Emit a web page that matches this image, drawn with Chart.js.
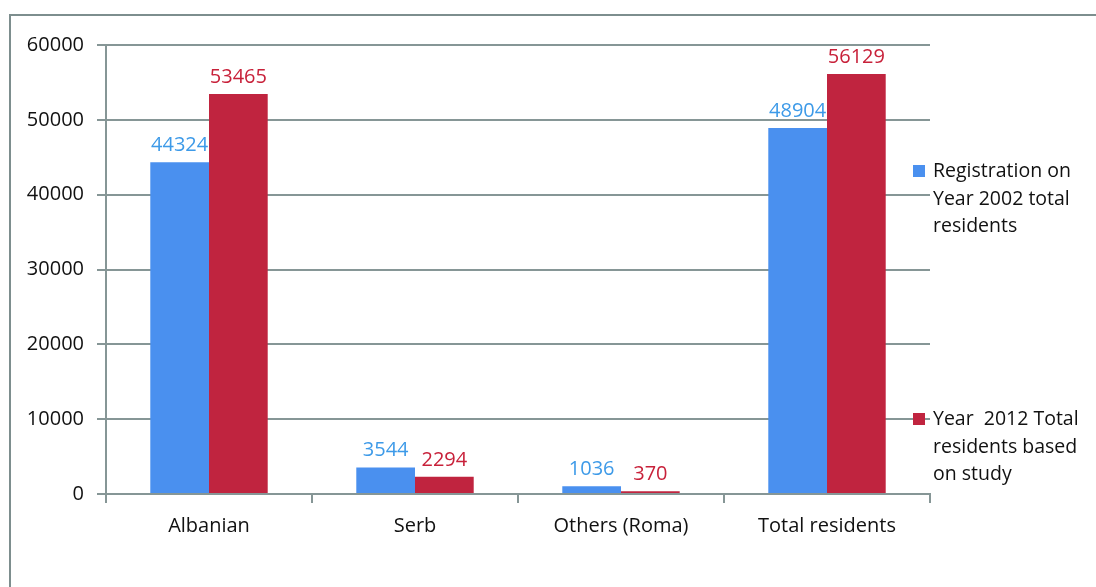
<!DOCTYPE html>
<html>
<head>
<meta charset="utf-8">
<script src="https://cdn.jsdelivr.net/npm/chart.js@4.4.0/dist/chart.umd.min.js"></script>
<style>
    body { margin: 0; background: #fff; }
    #wrap { position: relative; width: 1096px; height: 587px; overflow: hidden; font-family: "Open Sans", sans-serif; }
    #frame { position: absolute; left: 9px; top: 14px; width: 2000px; height: 2000px; border-left: 2px solid #7d8e8e; border-top: 2px solid #7d8e8e; }
    canvas { position: absolute; left: 0; top: 0; }
    .legend { position: absolute; left: 913px; font-size: 19.5px; line-height: 27.5px; color: #111; }
    .legend .box { position: absolute; left: 0; top: 9px; width: 12px; height: 12px; }
    .legend .txt { margin-left: 20px; white-space: nowrap; }
</style>
</head>
<body>
<div id="wrap">
    <div id="frame"></div>
    <canvas id="chart" width="1096" height="587"></canvas>
    <div class="legend" id="leg1" style="top:156px"><span class="box"></span><div class="txt"></div></div>
    <div class="legend" id="leg2" style="top:404px"><span class="box"></span><div class="txt"></div></div>
</div>
<script>
document.addEventListener('DOMContentLoaded', () => {
    // Data
    const categories = ['Albanian', 'Serb', 'Others (Roma)', 'Total residents'];
    const registration2002 = [44324, 3544, 1036, 48904];
    const study2012 = [53465, 2294, 370, 56129];
    const seriesNames = [
        ['Registration on', 'Year 2002 total', 'residents'],
        ['Year\u00a0 2012 Total', 'residents based', 'on study']
    ];
    const yTicks = [0, 10000, 20000, 30000, 40000, 50000, 60000];

    const blue = '#4a90ef';
    const red = '#c0243f';
    const blueText = '#3d9ae8';
    const redText = '#c8213a';
    const gridColor = '#869696';
    const fontFamily = '"Open Sans", sans-serif';

    // HTML legend (multi-line labels)
    [['leg1', blue, seriesNames[0]], ['leg2', red, seriesNames[1]]].forEach(([id, color, lines]) => {
        const el = document.getElementById(id);
        el.querySelector('.box').style.background = color;
        el.querySelector('.txt').innerHTML = lines.join('<br>');
    });

    // Value labels above each bar
    const valueLabels = {
        id: 'valueLabels',
        afterDatasetsDraw(chart) {
            const ctx = chart.ctx;
            ctx.save();
            ctx.font = '20px ' + fontFamily;
            ctx.textAlign = 'center';
            ctx.textBaseline = 'alphabetic';
            chart.data.datasets.forEach((ds, i) => {
                ctx.fillStyle = i === 0 ? blueText : redText;
                chart.getDatasetMeta(i).data.forEach((bar, j) => {
                    ctx.fillText(String(ds.data[j]), bar.x, bar.y - 11);
                });
            });
            ctx.restore();
        }
    };

    const ctx = document.getElementById('chart').getContext('2d');
    new Chart(ctx, {
        type: 'bar',
        data: {
            labels: categories,
            datasets: [
                { label: seriesNames[0].join(' '), data: registration2002, backgroundColor: blue },
                { label: seriesNames[1].join(' '), data: study2012, backgroundColor: red }
            ]
        },
        options: {
            responsive: false,
            animation: false,
            layout: { padding: { left: 0, right: 166, top: 45, bottom: 0 } },
            datasets: { bar: { categoryPercentage: 0.57, barPercentage: 1.0 } },
            plugins: {
                legend: { display: false },
                tooltip: { enabled: false }
            },
            scales: {
                x: {
                    grid: { drawOnChartArea: false, drawTicks: true, tickLength: 9, color: gridColor, lineWidth: 2 },
                    border: { color: gridColor, width: 2 },
                    ticks: { color: '#111', font: { family: fontFamily, size: 20 }, padding: 11 },
                    afterFit: (s) => { s.height = 93; }
                },
                y: {
                    min: 0,
                    max: 60000,
                    afterBuildTicks: (s) => { s.ticks = yTicks.map(v => ({ value: v })); },
                    grid: { color: gridColor, lineWidth: 2, tickLength: 9 },
                    border: { color: gridColor, width: 2 },
                    ticks: { color: '#111', font: { family: fontFamily, size: 20 }, padding: 13, callback: (v) => String(v) },
                    afterFit: (s) => { s.width = 106; }
                }
            }
        },
        plugins: [valueLabels]
    });
});
</script>
</body>
</html>
